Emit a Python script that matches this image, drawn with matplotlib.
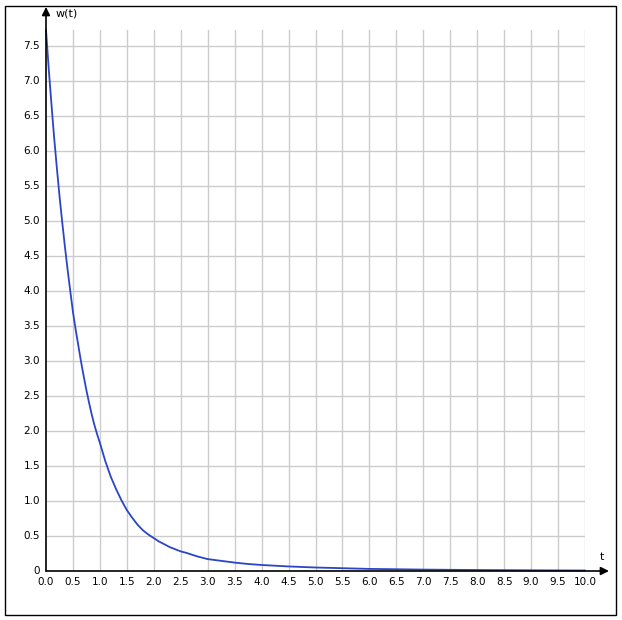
import numpy as np
import matplotlib.pyplot as plt
from matplotlib.patches import Rectangle

# values
t_vals = [0.0, 0.05, 0.1, 0.15, 0.2, 0.25, 0.3, 0.35, 0.4, 0.45, 0.5, 0.55, 0.6, 0.65,
          0.7, 0.75, 0.8, 0.85, 0.9, 0.95, 1.0, 1.1, 1.2, 1.3, 1.4, 1.5, 1.6, 1.7, 1.8,
          1.9, 2.0, 2.1, 2.2, 2.3, 2.4, 2.5, 2.6, 2.7, 2.8, 2.9, 3.0, 3.25, 3.5, 3.75,
          4.0, 4.5, 5.0, 5.5, 6.0, 6.5, 7.0, 8.0, 9.0, 10.0]
w_vals = [7.73, 7.18, 6.68, 6.20, 5.77, 5.36, 4.99, 4.64, 4.31, 4.00, 3.70, 3.45, 3.22, 2.99,
          2.78, 2.58, 2.40, 2.23, 2.08, 1.95, 1.83, 1.57, 1.35, 1.17, 1.01, 0.87, 0.76, 0.66, 0.58,
          0.52, 0.47, 0.42, 0.38, 0.34, 0.31, 0.28, 0.26, 0.235, 0.21, 0.19, 0.17, 0.145, 0.12, 0.10,
          0.086, 0.065, 0.05, 0.04, 0.03, 0.025, 0.02, 0.014, 0.01, 0.007]
x_ticks = np.arange(0, 10.01, 0.5)
y_ticks = np.arange(0.5, 7.51, 0.5)

W, H = 622, 620
fig = plt.figure(figsize=(W / 100, H / 100), dpi=100)
fig.patches.append(Rectangle((5 / W, 5 / H), 611 / W, 609 / H, transform=fig.transFigure,
                             fill=False, edgecolor='black', linewidth=1))

# data area in pixels: x 46..585, y 571 (0) .. 30 (top)
ax = fig.add_axes([46 / W, (H - 571) / H, 539 / W, 541 / H])
ax.set_xlim(0, 10)
ax.set_ylim(0, 541 / 70)
for s in ax.spines.values():
    s.set_visible(False)
ax.set_xticks([])
ax.set_yticks([])

for x in x_ticks[1:]:
    ax.axvline(x, color='#cccccc', lw=1, zorder=1)
for y in y_ticks:
    ax.axhline(y, color='#cccccc', lw=1, zorder=1)

ax.plot(t_vals, w_vals, color='#2a45c8', lw=1.3, zorder=3, clip_on=False,
        solid_joinstyle='round')

# axes with arrows
ax.annotate('', xy=(609 / W, (H - 571) / H), xytext=(46 / W, (H - 571) / H),
            xycoords='figure fraction', textcoords='figure fraction',
            arrowprops=dict(arrowstyle='-|>', color='black', lw=1.2, mutation_scale=12,
                            shrinkA=0, shrinkB=0), zorder=5)
ax.annotate('', xy=(46 / W, (H - 7) / H), xytext=(46 / W, (H - 571) / H),
            xycoords='figure fraction', textcoords='figure fraction',
            arrowprops=dict(arrowstyle='-|>', color='black', lw=1.2, mutation_scale=12,
                            shrinkA=0, shrinkB=0), zorder=5)

fs = 7.5
for x in x_ticks:
    ax.text(x, -11 / 70, '%.1f' % x, ha='center', va='center', fontsize=fs, clip_on=False)
for y in y_ticks:
    ax.text(-0.11, y, '%.1f' % y, ha='right', va='center', fontsize=fs, clip_on=False)
ax.text(-0.11, 0, '0', ha='right', va='center', fontsize=fs, clip_on=False)

fig.text(56 / W, (H - 13) / H, 'w(t)', ha='left', va='center', fontsize=8)
fig.text(602 / W, (H - 557) / H, 't', ha='center', va='center', fontsize=8)

fig.savefig('out.png', dpi=100)
